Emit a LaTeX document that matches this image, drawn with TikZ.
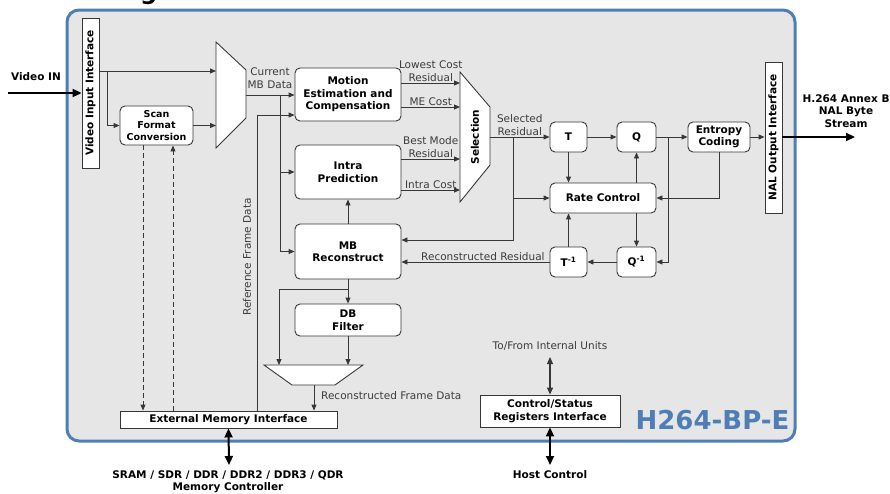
\documentclass[tikz,border=0pt]{standalone}
\usepackage{fontspec}
\setmainfont{DejaVu Sans}
\usepackage{graphicx}
\usetikzlibrary{arrows.meta,calc}

\definecolor{framebl}{RGB}{79,126,182}
\definecolor{panelgr}{RGB}{230,230,230}
\definecolor{linegr}{RGB}{55,55,55}
\definecolor{textgr}{RGB}{60,60,60}

\begin{document}
\begin{tikzpicture}[x=1pt, y=-1pt,
	blk/.style={draw=linegr, fill=white, rounded corners=5pt, line width=0.9pt, align=center, inner sep=1pt, font=\fontsize{10.5}{12.5}\selectfont\bfseries},
	ifbox/.style={draw=linegr, fill=white, line width=0.9pt, align=center, inner sep=1pt, font=\fontsize{10.5}{12.5}\selectfont\bfseries},
	mux/.style={draw=linegr, fill=white, line width=0.9pt},
	lbl/.style={font=\fontsize{10.5}{13}\selectfont, text=textgr, align=center, inner sep=1pt},
	lblb/.style={font=\fontsize{10.5}{12.5}\selectfont\bfseries, align=center, inner sep=1pt},
	arr/.style={draw=linegr, line width=0.9pt, -{Triangle[length=6pt,width=5pt]}},
	dsh/.style={arr, dash pattern=on 5pt off 3pt},
	thk/.style={line width=2pt, -{Triangle[length=9pt,width=8pt]}},
	dbl/.style={line width=2pt, {Triangle[length=9pt,width=8pt]}-{Triangle[length=9pt,width=8pt]}},
	dblthin/.style={draw=linegr, line width=1.2pt, {Triangle[length=7pt,width=6pt]}-{Triangle[length=7pt,width=6pt]}}
	]
	\useasboundingbox (0,0) rectangle (890,493);
	\node[anchor=base west, inner sep=0pt, font=\fontsize{24}{28}\selectfont\bfseries] (title) at (14,-0.5) {Block Diagram};
	\draw[draw=framebl, fill=panelgr, line width=3pt, rounded corners=12pt] (67,10) rectangle (795,441);

	\node[ifbox, minimum width=17pt, minimum height=150pt] (vii) at (90.5,93) {\rotatebox{90}{Video Input Interface}};
	\node[blk, minimum width=73pt, minimum height=39pt, font=\fontsize{9.5}{11.5}\selectfont\bfseries] (sfc) at (156.5,125.5) {Scan\\Format\\Conversion};
	\node[blk, minimum width=106pt, minimum height=53pt] (mec) at (348,94.5) {Motion\\Estimation and\\Compensation};
	\node[blk, minimum width=106pt, minimum height=54pt] (intra) at (348,172) {Intra\\Prediction};
	\node[blk, minimum width=106pt, minimum height=55pt] (mbr) at (348,251.5) {MB\\Reconstruct};
	\node[blk, minimum width=106pt, minimum height=32pt] (dbf) at (348,320) {DB\\Filter};
	\node[ifbox, minimum width=217pt, minimum height=17pt] (emi) at (228.5,419.5) {External Memory Interface};
	\node[blk, minimum width=37pt, minimum height=30pt] (T) at (568.5,137) {T};
	\node[blk, minimum width=39pt, minimum height=30pt] (Q) at (636.5,137) {Q};
	\node[blk, minimum width=106pt, minimum height=30pt] (rc) at (603,198) {Rate Control};
	\node[blk, minimum width=37pt, minimum height=30pt] (Tinv) at (568.5,262) {T\textsuperscript{-1}};
	\node[blk, minimum width=39pt, minimum height=30pt] (Qinv) at (636.5,262) {Q\textsuperscript{-1}};
	\node[blk, minimum width=62pt, minimum height=30pt] (ec) at (719,137) {Entropy\\Coding};
	\node[ifbox, minimum width=17pt, minimum height=151pt] (nal) at (773.5,137.5) {\rotatebox{90}{NAL Output Interface}};
	\node[ifbox, minimum width=140pt, minimum height=32pt] (csr) at (550,411) {Control/Status\\Registers Interface};

	% muxes
	\draw[mux] (216,42) -- (246,70) -- (246,118) -- (216,148) -- cycle;
	\draw[mux] (460,72) -- (490,107) -- (490,165) -- (460,202) -- cycle;
	\draw[mux] (264,365) -- (363,365) -- (335,385) -- (292,385) -- cycle;
	\node[lblb] (sel) at (475,137) {\rotatebox{90}{Selection}};

	\coordinate (vin) at (8,93);
	\coordinate (br1) at (107,71);
	\coordinate (m1a) at (216,71);
	\coordinate (m1o) at (246,95);
	\coordinate (br2) at (280,95);
	\coordinate (rf) at (257,115);
	\coordinate (s1) at (460,83);
	\coordinate (s2) at (460,107);
	\coordinate (s3) at (460,159);
	\coordinate (s4) at (460,190);
	\coordinate (so) at (490,137);
	\coordinate (br3) at (513,137);
	\coordinate (br4) at (668,137);
	\coordinate (vout) at (855,137);
	\coordinate (br5) at (348,289);
	\coordinate (m2a) at (279,365);
	\coordinate (m2b) at (348,365);
	\coordinate (m2o) at (314,385);
	\coordinate (dn) at ([xshift=-13.5pt]sfc.south);
	\coordinate (up) at ([xshift=16.5pt]sfc.south);
	\coordinate (mem) at (229,465);
	\coordinate (intu) at (550,357);
	\coordinate (host) at (550,465);

	% input side
	\draw[thk] (vin) -- (vii.west);
	\node[lblb] (vinl) at (36,77) {Video IN};
	\draw[arr] (vii.east |- m1a) -- (m1a);
	\draw[arr] (br1) |- (sfc.west);
	\draw[arr] (sfc.east) -- (sfc.east -| m1a);
	\draw[arr] (m1o) -- (mec.west |- m1o);
	\node[lbl] (cmb) at (270,78.5) {Current\\MB Data};
	\draw[arr] (br2) |- (intra.west);
	\draw[arr] (br2) |- (mbr.west);
	\draw[arr] (emi.north -| rf) |- (mec.west |- rf);
	\node[lbl] (rfd) at (247,257) {\rotatebox{90}{Reference Frame Data}};
	\draw[dsh] (dn) -- (dn |- emi.north);
	\draw[dsh] (up |- emi.north) -- (up);

	% selection
	\draw[arr] (mec.east |- s1) -- (s1) node[lbl, midway, above] (lcr) {Lowest Cost\\Residual};
	\draw[arr] (mec.east |- s2) -- (s2) node[lbl, midway, above] (mec2) {ME Cost};
	\draw[arr] (intra.east |- s3) -- (s3) node[lbl, midway, above] (bmr) {Best Mode\\Residual};
	\draw[arr] (intra.east |- s4) -- (s4) node[lbl, midway, above] (ic) {Intra Cost};
	\draw[arr] (so) -- (T.west) node[lbl, midway, above] (selr) {Selected\\Residual};
	\draw[arr] (br3) |- ([yshift=11.5pt]mbr.east);
	\draw[arr] (br3 |- rc.west) -- (rc.west);

	% transform loop
	\draw[arr] (T.east) -- (Q.west);
	\draw[arr] (T.south) -- (T.south |- rc.north);
	\draw[arr] (Q.south |- rc.north) -- (Q.south);
	\draw[arr] (Qinv.north |- rc.south) -- (Qinv.north);
	\draw[arr] (Tinv.north) -- (Tinv.north |- rc.south);
	\draw[arr] (Qinv.west) -- (Tinv.east);
	\draw[arr] (Tinv.west) -- (Tinv.west -| mbr.east) node[lbl, pos=0.45, above] (rres) {Reconstructed Residual};
	\draw[arr] (Q.east) -- (ec.west);
	\draw[arr] (br4) |- (Qinv.east);
	\draw[arr] (ec.south) |- (rc.east);
	\draw[arr] (ec.east) -- (ec.east -| nal.west);
	\draw[thk] (nal.east |- vout) -- (vout);
	\node[lblb] (outl) at (846,111) {H.264 Annex B\\NAL Byte\\Stream};

	% reconstruction
	\draw[arr] (mbr.north) -- (intra.south);
	\draw[arr] (mbr.south) -- (dbf.north);
	\draw[arr] (br5) -| (m2a);
	\draw[arr] (dbf.south) -- (m2b);
	\draw[arr] (m2o) -- (emi.north -| m2o);
	\node[lbl, anchor=west] (rfr) at (320,396) {Reconstructed Frame Data};

	% external ports
	\draw[dbl] (emi.south) -- (mem);
	\node[lblb, font=\fontsize{10.5}{12}\selectfont\bfseries] (meml) at (228,482) {SRAM / SDR / DDR / DDR2 / DDR3 / QDR\\Memory Controller};
	\draw[dblthin] (csr.north) -- (intu);
	\node[lbl] (intl) at (550,346) {To/From Internal Units};
	\draw[dbl] (csr.south) -- (host);
	\node[lblb] (hostl) at (550,475) {Host Control};
	\node[font=\fontsize{26}{30}\selectfont\bfseries, text=framebl] (ipname) at (712.5,420) {H264-BP-E};
\end{tikzpicture}
\end{document}
